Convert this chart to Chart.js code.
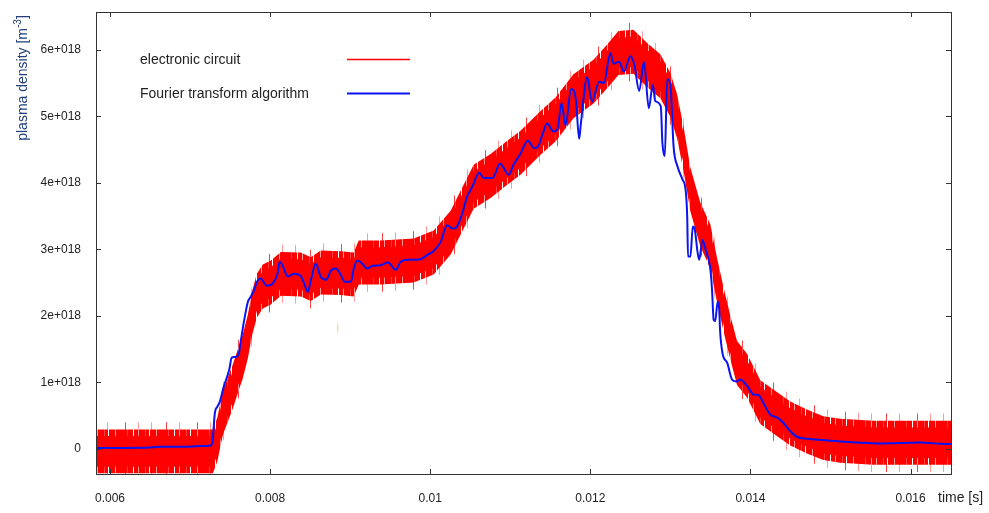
<!DOCTYPE html>
<html>
<head>
<meta charset="utf-8">
<script src="https://cdn.jsdelivr.net/npm/chart.js@4.4.0/dist/chart.umd.min.js"></script>
<style>
    html, body { margin: 0; padding: 0; background: #ffffff; }
    #wrap { width: 989px; height: 513px; }
</style>
</head>
<body>
<div id="wrap"><canvas id="densityChart" width="989" height="513"></canvas></div>
<script>
// --- Data (time in s, density in 1e18 m^-3) ---
const fourierTime = [
    0.005825, 0.00651, 0.00664, 0.00691, 0.00713, 0.00726, 0.00728, 0.00731, 0.00734, 0.00737,
    0.00742, 0.00749, 0.00752, 0.00757, 0.00761, 0.00763, 0.00767, 0.00772, 0.00776, 0.00780,
    0.00784, 0.00788, 0.00796, 0.00803, 0.00809, 0.00812, 0.00816, 0.00822, 0.00830, 0.00838,
    0.00842, 0.00847, 0.00851, 0.00857, 0.00863, 0.00870, 0.00876, 0.00882, 0.00888, 0.00893,
    0.00901, 0.00904, 0.00909, 0.00916, 0.00921, 0.00928, 0.00938, 0.00947, 0.00957, 0.00963,
    0.00972, 0.00979, 0.00988, 0.00997, 0.01004, 0.01013, 0.01021, 0.01028, 0.01032, 0.01040,
    0.01046, 0.01053, 0.01061, 0.01067, 0.01078, 0.01087, 0.01098, 0.01104, 0.01112, 0.01122,
    0.01130, 0.01135, 0.01140, 0.01146, 0.01154, 0.01159, 0.01164, 0.01169, 0.01176, 0.01182,
    0.01186, 0.01188, 0.01196, 0.01202, 0.01211, 0.01217, 0.01225, 0.01229, 0.01236, 0.01242,
    0.01250, 0.01255, 0.01261, 0.01267, 0.01273, 0.01278, 0.01281, 0.01288, 0.01290, 0.01293,
    0.01296, 0.01300, 0.01304, 0.01309, 0.01315, 0.01319, 0.01321, 0.01322, 0.01325, 0.01328,
    0.01330, 0.01334, 0.01336, 0.01340, 0.01344, 0.01350, 0.01352, 0.01354, 0.01356, 0.01359,
    0.01361, 0.01362, 0.01365, 0.01371, 0.01377, 0.01383, 0.01387, 0.01396, 0.01400, 0.01404,
    0.01410, 0.01412, 0.01416, 0.01425, 0.01433, 0.01441, 0.01450, 0.01458, 0.01471, 0.01491,
    0.01512, 0.01533, 0.01562, 0.01587, 0.01612, 0.01637, 0.01651
];
const fourierDensity = [
    0.01, 0.02, 0.03, 0.03, 0.04, 0.05, 0.11, 0.54, 0.63, 0.70,
    0.93, 1.19, 1.37, 1.38, 1.44, 1.59, 1.89, 2.20, 2.29, 2.39,
    2.52, 2.56, 2.45, 2.48, 2.62, 2.81, 2.74, 2.59, 2.63, 2.60,
    2.50, 2.36, 2.54, 2.78, 2.59, 2.54, 2.68, 2.71, 2.62, 2.51,
    2.51, 2.69, 2.83, 2.77, 2.71, 2.75, 2.76, 2.80, 2.69, 2.81,
    2.84, 2.84, 2.85, 2.92, 2.97, 3.11, 3.36, 3.31, 3.32, 3.54,
    3.79, 3.95, 4.15, 4.07, 4.07, 4.29, 4.12, 4.27, 4.42, 4.63,
    4.52, 4.55, 4.72, 4.89, 4.77, 4.81, 5.20, 4.86, 5.41, 5.24,
    4.66, 4.87, 5.59, 5.22, 5.52, 5.50, 5.95, 5.79, 5.82, 5.67,
    5.90, 5.77, 5.38, 5.82, 5.12, 5.47, 5.23, 5.15, 4.60, 4.40,
    5.56, 5.47, 4.54, 4.24, 4.05, 3.89, 3.49, 2.89, 2.89, 3.34,
    3.32, 2.95, 2.84, 3.14, 2.99, 2.69, 2.39, 1.94, 1.92, 2.21,
    2.09, 1.79, 1.44, 1.29, 1.04, 1.01, 1.04, 0.94, 0.87, 0.81,
    0.81, 0.78, 0.69, 0.51, 0.47, 0.39, 0.26, 0.18, 0.15, 0.13,
    0.11, 0.095, 0.08, 0.085, 0.095, 0.075, 0.07
];

// electronic circuit signal: mean level, the noise spreads around it
const circuitTime = [
    0.005825, 0.007285, 0.007341, 0.00741, 0.007535, 0.007603, 0.007659, 0.007722, 0.007778, 0.007834,
    0.007909, 0.008009, 0.008134, 0.008383, 0.008508, 0.008633, 0.008882, 0.009044, 0.009107, 0.009381,
    0.009793, 0.010043, 0.010255, 0.010542, 0.010754, 0.010962, 0.011128, 0.011378, 0.011565, 0.011789,
    0.012039, 0.01221, 0.012351, 0.012538, 0.012709, 0.012875, 0.013, 0.013083, 0.013166, 0.013249,
    0.013374, 0.013499, 0.013582, 0.013665, 0.013749, 0.013832, 0.013957, 0.014123, 0.014285, 0.014497,
    0.014705, 0.014909, 0.015121, 0.015532, 0.016506
];
const circuitDensity = [
    -0.04, -0.04, 0.14, 0.54, 0.94, 1.19, 1.39, 1.69, 2.05, 2.30,
    2.44, 2.50, 2.63, 2.62, 2.55, 2.65, 2.64, 2.62, 2.80, 2.80,
    2.83, 2.95, 3.25, 3.94, 4.10, 4.30, 4.45, 4.75, 4.95, 5.30,
    5.52, 5.75, 5.95, 5.97, 5.77, 5.60, 5.32, 5.00, 4.50, 3.90,
    3.37, 3.04, 2.54, 2.09, 1.67, 1.29, 1.10, 0.70, 0.56, 0.38,
    0.26, 0.16, 0.12, 0.09, 0.09
];
// noise half-widths of the circuit signal
const noiseCore = 0.23;
const noiseFringe = 0.33;
const noiseSpikes = 0.44;

const strayTime = [0.008845, 0.008845];
const strayDensity = [1.74, 1.89];

const timeTicks = [0.006, 0.008, 0.01, 0.012, 0.014, 0.016];
const timeLabels = ['0.006', '0.008', '0.01', '0.012', '0.014', '0.016'];
const densityTicks = [0, 1, 2, 3, 4, 5, 6];
const densityLabels = ['0', '1e+018', '2e+018', '3e+018', '4e+018', '5e+018', '6e+018'];

const FONT = '"Liberation Sans", Arial, sans-serif';
const TEXT = '#222222';

// --- Stripe patterns for the noisy trace ---
function stripes(code) {
    const c = document.createElement('canvas');
    c.width = code.length;
    c.height = 4;
    const g = c.getContext('2d');
    const colors = { R: '#ff0000', p: '#ff4040', q: '#ff9a9a' };
    for (let i = 0; i < code.length; i++) {
        if (colors[code[i]]) {
            g.fillStyle = colors[code[i]];
            g.fillRect(i, 0, 1, 4);
        }
    }
    return g.createPattern(c, 'repeat');
}
const fringeFill = stripes('RRRRpRRRRRwRRRRqRRRRRRpRRRwRRRRRRqRRRRRRR');
const spikeFill = stripes('wwwwwwwqwwwwwwwwwwwwwwpwwwwwwwwwwwwqwwwwwwwwwwwwwwwwwpwwwwwwwwwwwwqwwwww');

function pts(times, values, shift) {
    return times.map((t, i) => ({ x: t, y: values[i] + (shift || 0) }));
}

function bandPair(half, fill, order) {
    return [
        { data: pts(circuitTime, circuitDensity, half), borderColor: 'rgba(0,0,0,0)', borderWidth: 0, pointRadius: 0, fill: false, order: order },
        { data: pts(circuitTime, circuitDensity, -half), borderColor: 'rgba(0,0,0,0)', borderWidth: 0, pointRadius: 0, fill: '-1', backgroundColor: fill, order: order }
    ];
}

// --- Frame, inward ticks, titles, legend ---
const decorations = {
    id: 'decorations',
    afterDraw(chart) {
        const ctx = chart.ctx;
        const a = chart.chartArea;
        const xs = chart.scales.x;
        const ys = chart.scales.y;
        ctx.save();
        ctx.strokeStyle = '#333333';
        ctx.lineWidth = 1;
        ctx.strokeRect(Math.round(a.left) + 0.5, Math.round(a.top) + 0.5, Math.round(a.right - a.left), Math.round(a.bottom - a.top));
        ctx.beginPath();
        timeTicks.forEach(v => {
            const px = Math.round(xs.getPixelForValue(v)) + 0.5;
            ctx.moveTo(px, a.bottom); ctx.lineTo(px, a.bottom - 5);
            ctx.moveTo(px, a.top); ctx.lineTo(px, a.top + 5);
        });
        densityTicks.forEach(v => {
            const py = Math.round(ys.getPixelForValue(v)) + 0.5;
            ctx.moveTo(a.left, py); ctx.lineTo(a.left + 5, py);
            ctx.moveTo(a.right, py); ctx.lineTo(a.right - 5, py);
        });
        ctx.stroke();

        // x title
        ctx.fillStyle = TEXT;
        ctx.font = '14px ' + FONT;
        ctx.textBaseline = 'middle';
        ctx.textAlign = 'left';
        ctx.fillText('time [s]', 938, 498);

        // y title with superscript
        ctx.save();
        ctx.translate(22, 78);
        ctx.rotate(-Math.PI / 2);
        ctx.fillStyle = '#23407a';
        const main = 'plasma density [m';
        ctx.font = '14px ' + FONT;
        const w1 = ctx.measureText(main).width;
        ctx.font = '10px ' + FONT;
        const w2 = ctx.measureText('-3').width;
        ctx.font = '14px ' + FONT;
        const w3 = ctx.measureText(']').width;
        let x0 = -(w1 + w2 + w3) / 2;
        ctx.textBaseline = 'alphabetic';
        ctx.fillText(main, x0, 5);
        ctx.font = '10px ' + FONT;
        ctx.fillText('-3', x0 + w1, -1);
        ctx.font = '14px ' + FONT;
        ctx.fillText(']', x0 + w1 + w2, 5);
        ctx.restore();

        // legend
        ctx.font = '14px ' + FONT;
        ctx.fillStyle = TEXT;
        ctx.textBaseline = 'middle';
        ctx.fillText('electronic circuit', 140, 60);
        ctx.fillText('Fourier transform algorithm', 140, 94);
        ctx.lineWidth = 1.5;
        ctx.strokeStyle = '#ff0000';
        ctx.beginPath(); ctx.moveTo(347, 59.5); ctx.lineTo(410, 59.5); ctx.stroke();
        ctx.lineWidth = 2;
        ctx.strokeStyle = '#0a14f0';
        ctx.beginPath(); ctx.moveTo(347, 93.5); ctx.lineTo(410, 93.5); ctx.stroke();
        ctx.restore();
    }
};

const datasets = [
    { data: pts(fourierTime, fourierDensity), borderColor: '#0a14f0', borderWidth: 2, pointRadius: 0, cubicInterpolationMode: 'monotone', fill: false, order: 0 },
    ...bandPair(noiseCore, '#ff0000', 1),
    ...bandPair(noiseFringe, fringeFill, 2),
    ...bandPair(noiseSpikes, spikeFill, 3),
    { data: pts(strayTime, strayDensity), borderColor: '#ffd27a', borderWidth: 1, pointRadius: 0, fill: false, order: 4 }
];

new Chart(document.getElementById('densityChart'), {
    type: 'line',
    data: { datasets: datasets },
    options: {
        responsive: false,
        animation: false,
        layout: { padding: { top: 12, right: 38, left: 0, bottom: 0 } },
        plugins: { legend: { display: false }, tooltip: { enabled: false } },
        scales: {
            x: {
                type: 'linear',
                min: 0.005825,
                max: 0.016505,
                grid: { display: false, drawTicks: false },
                border: { display: false },
                afterBuildTicks: s => { s.ticks = timeTicks.map(v => ({ value: v })); },
                afterFit: s => { s.height = 39; s.paddingLeft = 0; s.paddingRight = 0; },
                ticks: {
                    padding: 17,
                    maxRotation: 0,
                    autoSkip: false,
                    color: TEXT,
                    font: { family: FONT, size: 12 },
                    callback: (v, i) => timeLabels[i]
                }
            },
            y: {
                type: 'linear',
                min: -0.38,
                max: 6.567,
                grid: { display: false, drawTicks: false },
                border: { display: false },
                afterBuildTicks: s => { s.ticks = densityTicks.map(v => ({ value: v })); },
                afterFit: s => { s.width = 96; s.paddingTop = 0; s.paddingBottom = 0; },
                ticks: {
                    padding: 15,
                    autoSkip: false,
                    color: TEXT,
                    font: { family: FONT, size: 12 },
                    callback: (v, i) => densityLabels[i]
                }
            }
        }
    },
    plugins: [decorations]
});
</script>
</body>
</html>
